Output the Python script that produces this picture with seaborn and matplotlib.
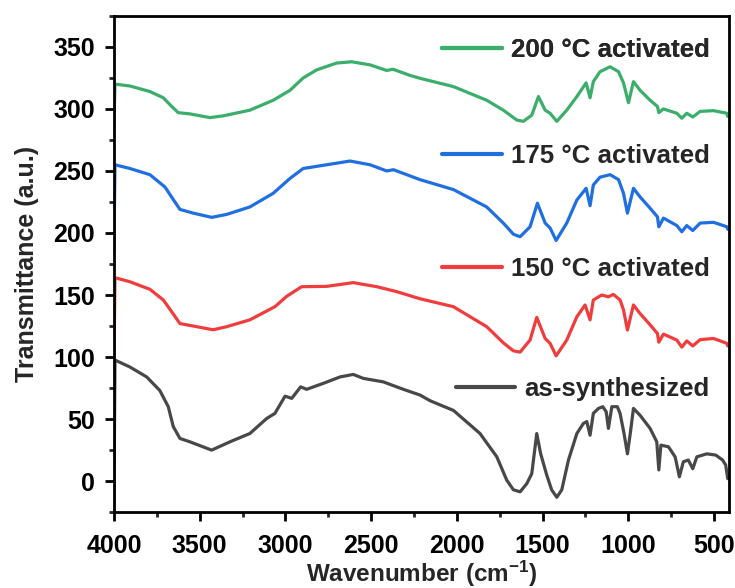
import numpy as np
import pandas as pd
import matplotlib
matplotlib.use("Agg")
import matplotlib.pyplot as plt
from matplotlib.lines import Line2D
from matplotlib.ticker import MultipleLocator
import seaborn as sns

# ---- data ----
wn_asyn = [4000, 3994, 3907, 3809, 3732, 3683, 3654, 3615, 3557, 3430, 3323, 3207, 3109, 3061, 3002, 2963,
           2911, 2876, 2779, 2681, 2604, 2545, 2429, 2312, 2215, 2156, 2020, 1865, 1767, 1709, 1670, 1631,
           1592, 1563, 1534, 1511, 1476, 1447, 1417, 1388, 1349, 1300, 1262, 1242, 1223, 1204, 1174, 1149,
           1129, 1116, 1096, 1064, 1048, 1025, 1005, 986, 970, 931, 873, 834, 822, 810, 766, 727, 702, 679,
           650, 624, 600, 542, 490, 450, 432, 420]
t_asyn = [-23, 97.6, 92, 84, 73, 60, 44, 34.4, 31.7, 25, 31.7, 38.4, 50.5, 54.6, 68.5, 66.7,
          76, 74, 78.8, 84, 86, 82.8, 80, 74, 69.4, 64.8, 57, 38.4, 19.6, 0.8, -7, -8.6,
          -2, 6, 38.4, 22, 5, -7, -13, -7, 17, 38.4, 46.5, 48, 37, 54.6, 58.6, 60,
          56, 42.5, 60, 60, 54.6, 38.4, 22, 41, 58.6, 53, 42.5, 31.7, 9, 29, 27.7, 19.6, 3.5, 15.6,
          17, 10, 19.6, 22, 21, 17, 13, 2]

wn_150 = [4000, 3994, 3907, 3790, 3712, 3663, 3615, 3537, 3421, 3342, 3207, 3061, 2992, 2905, 2759, 2604,
          2467, 2350, 2215, 2020, 1826, 1729, 1670, 1631, 1573, 1534, 1485, 1456, 1421, 1359, 1300, 1252,
          1223, 1204, 1155, 1116, 1087, 1048, 1028, 1005, 970, 931, 873, 830, 822, 795, 717, 688, 659,
          624, 581, 503, 425, 420]
t_150 = [92, 164, 160.7, 154.6, 146, 136.5, 127, 125, 122, 124.5, 130, 140.6, 149, 156.7, 157, 160,
         156.7, 152.7, 147, 140.6, 124.5, 111.5, 105, 104, 113.7, 132, 115, 111, 101, 113.7, 132.5, 142,
         130, 146, 150, 148.6, 150.5, 146, 138, 121.8, 142, 135, 126, 119, 112, 118.5, 113.7, 108, 113,
         109, 114, 115, 111, 109]

wn_175 = [4000, 3994, 3907, 3790, 3702, 3654, 3615, 3537, 3430, 3342, 3207, 3071, 2973, 2896, 2759, 2623,
          2506, 2409, 2370, 2273, 2215, 2020, 1826, 1729, 1670, 1631, 1573, 1530, 1485, 1456, 1421, 1359,
          1300, 1246, 1223, 1204, 1165, 1106, 1057, 1028, 1005, 970, 931, 873, 830, 822, 795, 717, 688,
          659, 624, 581, 503, 425, 420]
t_175 = [186, 255, 252, 247, 237, 227, 219, 216, 212.6, 215, 221, 232, 244, 252, 255, 258,
         255, 250, 251, 246, 243, 235, 221, 208, 199, 197, 205, 224, 208, 204, 194, 208,
         226.6, 236, 222, 238.7, 245, 247, 243, 232, 216, 236, 229, 220, 213, 205, 212, 206, 201,
         206, 202, 208, 208.6, 205, 203]

wn_200 = [4000, 3994, 3907, 3790, 3712, 3663, 3625, 3557, 3440, 3364, 3207, 3071, 2973, 2896, 2817, 2701,
          2613, 2506, 2409, 2372, 2273, 2215, 2020, 1826, 1729, 1650, 1612, 1563, 1524, 1485, 1456, 1417,
          1359, 1300, 1246, 1223, 1204, 1165, 1106, 1057, 1028, 999, 970, 931, 873, 830, 822, 795, 717,
          688, 659, 624, 581, 503, 425, 420]
t_200 = [286, 320, 318.5, 314, 309, 302, 297, 296, 293, 294.4, 299, 307, 315, 325, 331.5, 337,
         338, 335.5, 331, 332, 327, 324.7, 318, 307, 299, 291, 290, 295, 310, 299, 296.5, 290,
         299, 310, 321, 309, 322, 330, 334, 330, 321, 305, 322, 315, 307, 302, 297, 300, 296.5,
         292.5, 296.5, 293.5, 298, 298.6, 296.5, 294]

labels = ["as-synthesized", "150 °C activated", "175 °C activated", "200 °C activated"]
colors = ["#484848", "#f03c3c", "#1f6fe0", "#3aae6a"]

x_ticks = [4000, 3500, 3000, 2500, 2000, 1500, 1000, 500]
y_ticks = [0, 50, 100, 150, 200, 250, 300, 350]

# ---- style ----
sns.set_theme(style="ticks")
plt.rcParams["font.family"] = ["Liberation Sans", "DejaVu Sans"]
plt.rcParams["font.weight"] = "bold"
plt.rcParams["axes.labelweight"] = "bold"
plt.rcParams["mathtext.fontset"] = "custom"
plt.rcParams["mathtext.rm"] = "Liberation Sans:bold"
plt.rcParams["mathtext.bf"] = "Liberation Sans:bold"
plt.rcParams["mathtext.default"] = "rm"

fig = plt.figure(figsize=(7.35, 5.88), dpi=100)
ax = fig.add_axes([0.155, 0.129, 0.837, 0.844])

series = [(wn_asyn, t_asyn), (wn_150, t_150), (wn_175, t_175), (wn_200, t_200)]
for (wn, t), lab, col in zip(series, labels, colors):
    df = pd.DataFrame({"wn": wn, "t": t})
    sns.lineplot(data=df, x="wn", y="t", sort=False, estimator=None, color=col,
                 linewidth=2.3, ax=ax, legend=False)

ax.set_xlim(4000, 412)
ax.set_ylim(-25, 375)
ax.set_xticks(x_ticks)
ax.set_yticks(y_ticks)
ax.xaxis.set_minor_locator(MultipleLocator(250))
ax.yaxis.set_minor_locator(MultipleLocator(25))
ax.tick_params(axis="both", which="major", direction="out", length=6.5, width=2,
               labelsize=18, colors="black")
ax.tick_params(axis="x", which="major", pad=9)
ax.tick_params(axis="y", which="major", pad=7)
ax.tick_params(axis="both", which="minor", direction="out", length=3.5, width=2)
for lbl in ax.get_xticklabels() + ax.get_yticklabels():
    lbl.set_fontweight("bold")
for sp in ax.spines.values():
    sp.set_linewidth(2)
    sp.set_color("black")

ax.set_xlabel(r"Wavenumber (cm$^{-1}$)", fontsize=17.5, fontweight="bold")
ax.set_ylabel("Transmittance (a.u.)", fontsize=18, fontweight="bold")
ax.xaxis.set_label_coords(0.5, -0.093)
ax.yaxis.set_label_coords(-0.122, 0.5)

# per-curve legend entries placed beside each curve
leg_y = [0.248, 0.490, 0.718, 0.931]
for lab, col, yy in zip(labels, colors, leg_y):
    h = Line2D([], [], color=col, linewidth=3)
    lg = ax.legend([h], [lab], loc="center right", bbox_to_anchor=(0.968, yy),
                   frameon=False, borderpad=0, borderaxespad=0, handlelength=2.3,
                   handletextpad=0.35, prop={"size": 18.6, "weight": "bold"})
    ax.add_artist(lg)

fig.savefig("out.png", dpi=100)
